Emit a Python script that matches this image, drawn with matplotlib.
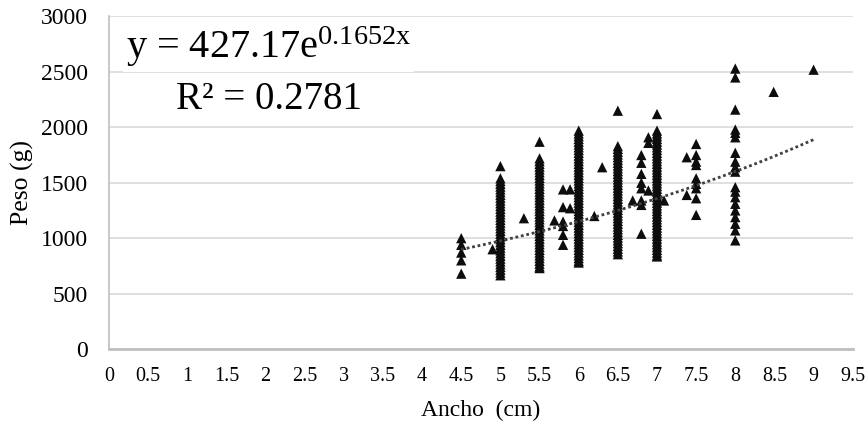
import numpy as np
import matplotlib
matplotlib.use("Agg")
import matplotlib.pyplot as plt

plt.rcParams['font.family'] = ['Liberation Serif', 'DejaVu Serif']
plt.rcParams['mathtext.fontset'] = 'custom'
plt.rcParams['mathtext.rm'] = 'Liberation Serif'
plt.rcParams['mathtext.it'] = 'Liberation Serif:italic'

# ---- data: (ancho, list of peso values) ----
x_45 = 4.5;  y_45 = [1000, 940, 870, 800, 680]
x_49 = 4.9;  y_49 = [900]
x_50 = 5.0;  y_50 = [1650, 1540, 1515, 1490, 1465, 1440, 1415, 1390, 1365, 1340, 1315, 1290,
                     1265, 1240, 1215, 1190, 1165, 1140, 1115, 1090, 1065, 1040, 1015, 990,
                     965, 940, 915, 890, 865, 840, 815, 790, 765, 740, 715, 690, 665]
x_53 = 5.3;  y_53 = [1180]
x_55 = 5.5;  y_55 = [1870, 1720, 1695, 1670, 1645, 1620, 1595, 1570, 1545, 1520, 1495, 1470,
                     1445, 1420, 1395, 1370, 1345, 1320, 1295, 1270, 1245, 1220, 1195, 1170,
                     1145, 1120, 1095, 1070, 1045, 1020, 995, 970, 945, 920, 895, 870, 845,
                     820, 795, 770, 745, 730]
x_57 = 5.69; y_57 = [1160]
x_58 = 5.8;  y_58 = [1440, 1280, 1150, 1110, 1030, 940]
x_59 = 5.89; y_59 = [1440, 1270]
x_60 = 6.0;  y_60 = [1970, 1945, 1920, 1895, 1870, 1845, 1820, 1795, 1770, 1745, 1720, 1695,
                     1670, 1645, 1620, 1595, 1570, 1545, 1520, 1495, 1470, 1445, 1420, 1395,
                     1370, 1345, 1320, 1295, 1270, 1245, 1220, 1195, 1170, 1145, 1120, 1095,
                     1070, 1045, 1020, 995, 970, 945, 920, 895, 870, 845, 820, 795, 780]
x_62 = 6.2;  y_62 = [1200]
x_63 = 6.3;  y_63 = [1640]
x_65 = 6.5;  y_65 = [2150, 1830, 1805, 1780, 1755, 1730, 1705, 1680, 1655, 1630, 1605, 1580,
                     1555, 1530, 1505, 1480, 1455, 1430, 1405, 1380, 1355, 1330, 1305, 1280,
                     1255, 1230, 1205, 1180, 1155, 1130, 1105, 1080, 1055, 1030, 1005, 980,
                     955, 930, 905, 880, 855]
x_67 = 6.69; y_67 = [1340]
x_68 = 6.8;  y_68 = [1750, 1680, 1580, 1500, 1450, 1340, 1300, 1040]
x_69 = 6.89; y_69 = [1910, 1860, 1430]
x_70 = 7.0;  y_70 = [2120, 1970, 1945, 1920, 1895, 1870, 1845, 1820, 1795, 1770, 1745, 1720,
                     1695, 1670, 1645, 1620, 1595, 1570, 1545, 1520, 1495, 1470, 1445, 1420,
                     1395, 1370, 1345, 1320, 1295, 1270, 1245, 1220, 1195, 1170, 1145, 1120,
                     1095, 1070, 1045, 1020, 995, 970, 945, 920, 895, 870, 845, 835]
x_71 = 7.09; y_71 = [1340]
x_74 = 7.38; y_74 = [1730, 1390]
x_75 = 7.5;  y_75 = [1850, 1750, 1690, 1660, 1540, 1490, 1450, 1360, 1210]
x_80 = 8.0;  y_80 = [2530, 2450, 2160, 1980, 1950, 1910, 1770, 1690, 1640, 1600, 1460, 1420,
                     1370, 1310, 1250, 1190, 1130, 1070, 980]
x_85 = 8.49; y_85 = [2320]
x_90 = 9.0;  y_90 = [2520]

groups = [(x_45, y_45), (x_49, y_49), (x_50, y_50), (x_53, y_53), (x_55, y_55),
          (x_57, y_57), (x_58, y_58), (x_59, y_59), (x_60, y_60), (x_62, y_62),
          (x_63, y_63), (x_65, y_65), (x_67, y_67), (x_68, y_68), (x_69, y_69),
          (x_70, y_70), (x_71, y_71), (x_74, y_74), (x_75, y_75), (x_80, y_80),
          (x_85, y_85), (x_90, y_90)]

fit_a = 427.17
fit_b = 0.1652
r2 = 0.2781

xticks = [0, 0.5, 1, 1.5, 2, 2.5, 3, 3.5, 4, 4.5, 5, 5.5, 6, 6.5, 7, 7.5, 8, 8.5, 9, 9.5]
xtick_labels = ['0', '0.5', '1', '1.5', '2', '2.5', '3', '3.5', '4', '4.5', '5', '5.5',
                '6', '6.5', '7', '7.5', '8', '8.5', '9', '9.5']
yticks = [0, 500, 1000, 1500, 2000, 2500, 3000]

xs = np.concatenate([[g[0]] * len(g[1]) for g in groups])
ys = np.concatenate([g[1] for g in groups])

fig = plt.figure(figsize=(8.68, 4.25), dpi=100)
ax = fig.add_axes([0.1255, 0.1788, 0.9824 - 0.1255, 0.9612 - 0.1788])

ax.scatter(xs, ys, marker='^', s=55, color='#0d0d0d', edgecolors='none', zorder=3)

xf = np.linspace(xs.min(), xs.max(), 200)
ax.plot(xf, fit_a * np.exp(fit_b * xf), linestyle=(0, (1, 1)), color='#404040',
        linewidth=2.0, zorder=4)

ax.set_xlim(0, 9.5)
ax.set_ylim(0, 3000)
ax.set_xticks(xticks)
ax.set_xticklabels(xtick_labels)
ax.set_yticks(yticks)
ax.tick_params(axis='both', length=0)
ax.tick_params(axis='x', labelsize=14.5, pad=13)
ax.tick_params(axis='y', labelsize=17, pad=15)
ax.grid(axis='y', color='#d9d9d9', linewidth=1.2, zorder=0)
ax.set_axisbelow(True)
for s in ['top', 'right']:
    ax.spines[s].set_visible(False)
ax.spines['left'].set_color('#bfbfbf')
ax.spines['left'].set_linewidth(1.2)
ax.spines['bottom'].set_color('#bfbfbf')
ax.spines['bottom'].set_linewidth(2.0)

ax.set_xlabel('Ancho  (cm)', fontsize=17, labelpad=10)
ax.set_ylabel('Peso (g)', fontsize=18.5, labelpad=5)

ax.text(0.215, 0.908, 'y = %.2fe$^{\\mathrm{%.4fx}}$' % (fit_a, fit_b), transform=ax.transAxes,
        ha='center', va='center', fontsize=29, zorder=6,
        bbox=dict(facecolor='white', edgecolor='none', pad=2))
ax.text(0.215, 0.75, 'R² = %.4f' % r2, transform=ax.transAxes,
        ha='center', va='center', fontsize=28, zorder=6,
        bbox=dict(facecolor='white', edgecolor='none', pad=2))

fig.savefig('out.png', dpi=100)
